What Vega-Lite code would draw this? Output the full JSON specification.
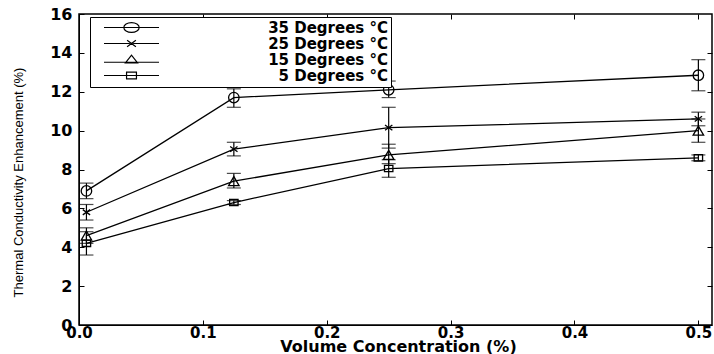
{
  "$schema": "https://vega.github.io/schema/vega-lite/v6.json",
  "width": 633,
  "height": 311,
  "autosize": {"type": "none"},
  "padding": {"left": 79, "top": 14, "right": 2, "bottom": 29},
  "background": "white",
  "config": {
    "view": {"stroke": "black", "strokeWidth": 1.5},
    "axis": {
      "domainColor": "black",
      "tickColor": "black",
      "labelColor": "black",
      "titleColor": "black",
      "grid": false,
      "labelFont": "DejaVu Sans",
      "labelFontWeight": "bold",
      "labelFontSize": 16,
      "tickSize": -5
    },
    "legend": {
      "labelFont": "DejaVu Sans",
      "labelColor": "black"
    }
  },
  "data": {
    "values": [
      {"series": "35 Degrees °C", "x": 0.006, "y": 6.9, "lo": 6.5, "hi": 7.3},
      {"series": "35 Degrees °C", "x": 0.125, "y": 11.7, "lo": 11.2, "hi": 12.15},
      {"series": "35 Degrees °C", "x": 0.25, "y": 12.1, "lo": 11.7, "hi": 12.55},
      {"series": "35 Degrees °C", "x": 0.5, "y": 12.85, "lo": 12.05, "hi": 13.65},
      {"series": "25 Degrees °C", "x": 0.006, "y": 5.8, "lo": 5.4, "hi": 6.2},
      {"series": "25 Degrees °C", "x": 0.125, "y": 9.05, "lo": 8.7, "hi": 9.4},
      {"series": "25 Degrees °C", "x": 0.25, "y": 10.15, "lo": 9.1, "hi": 11.2},
      {"series": "25 Degrees °C", "x": 0.5, "y": 10.6, "lo": 10.25, "hi": 10.95},
      {"series": "15 Degrees °C", "x": 0.006, "y": 4.6, "lo": 4.2, "hi": 5.0},
      {"series": "15 Degrees °C", "x": 0.125, "y": 7.4, "lo": 7.05, "hi": 7.8},
      {"series": "15 Degrees °C", "x": 0.25, "y": 8.75, "lo": 8.3, "hi": 9.3},
      {"series": "15 Degrees °C", "x": 0.5, "y": 10.0, "lo": 9.4, "hi": 10.6},
      {"series": "5 Degrees °C", "x": 0.006, "y": 4.2, "lo": 3.6, "hi": 4.8},
      {"series": "5 Degrees °C", "x": 0.125, "y": 6.3, "lo": 6.2, "hi": 6.4},
      {"series": "5 Degrees °C", "x": 0.25, "y": 8.05, "lo": 7.6, "hi": 8.5},
      {"series": "5 Degrees °C", "x": 0.5, "y": 8.6, "lo": 8.45, "hi": 8.75}
    ]
  },
  "resolve": {"axis": {"x": "independent", "y": "independent"}},
  "layer": [
    {
      "mark": {"type": "rule", "color": "black", "strokeWidth": 1.2},
      "encoding": {
        "x": {"field": "x", "type": "quantitative", "scale": {"domain": [0, 0.511], "nice": false, "zero": false},
          "axis": {"values": [0, 0.1, 0.2, 0.3, 0.4, 0.5], "title": "Volume Concentration (%)", "titleFont": "DejaVu Sans", "titleFontWeight": "bold", "titleFontSize": 16, "titleX": 319, "titleY": 26, "titleBaseline": "alphabetic", "titleAlign": "center", "labelPadding": 5, "labelFontSize": 15, "labelFlush": false}},
        "y": {"field": "lo", "type": "quantitative", "scale": {"domain": [0, 16], "nice": false},
          "axis": {"values": [0, 2, 4, 6, 8, 10, 12, 14, 16], "title": "Thermal Conductivity Enhancement (%)", "titleFont": "Liberation Sans", "titleFontWeight": "normal", "titleFontSize": 13, "titleX": -61, "titleY": 168, "titleAngle": -90, "titleBaseline": "middle", "titleAlign": "center", "labelPadding": 12, "labelFlush": false}},
        "y2": {"field": "hi"}
      }
    },
    {
      "mark": {"type": "tick", "orient": "horizontal", "color": "black", "size": 14, "thickness": 1.2},
      "encoding": {
        "x": {"field": "x", "type": "quantitative", "axis": null},
        "y": {"field": "lo", "type": "quantitative", "axis": null}
      }
    },
    {
      "mark": {"type": "tick", "orient": "horizontal", "color": "black", "size": 14, "thickness": 1.2},
      "encoding": {
        "x": {"field": "x", "type": "quantitative", "axis": {"orient": "top", "values": [0.1, 0.2, 0.3, 0.4, 0.5], "labels": false, "title": null, "domain": false}},
        "y": {"field": "hi", "type": "quantitative", "axis": {"orient": "right", "values": [2, 4, 6, 8, 10, 12, 14], "labels": false, "title": null, "domain": false}}
      }
    },
    {
      "mark": {"type": "line", "strokeWidth": 1.3},
      "encoding": {
        "x": {"field": "x", "type": "quantitative", "axis": null},
        "y": {"field": "y", "type": "quantitative", "axis": null},
        "order": {"field": "x"},
        "color": {
          "field": "series", "type": "nominal",
          "scale": {
            "domain": ["35 Degrees °C", "25 Degrees °C", "15 Degrees °C", "5 Degrees °C"],
            "range": ["black", "black", "black", "black"]
          },
          "legend": {
            "title": null,
            "orient": "none",
            "legendX": 11,
            "legendY": 3,
            "strokeColor": "black",
            "fillColor": "white",
            "padding": 3,
            "symbolSize": 121,
            "symbolOffset": 31,
            "symbolStrokeWidth": 1.2,
            "symbolFillColor": "transparent",
            "labelAlign": "right",
            "labelOffset": 249,
            "labelFontSize": 15,
            "labelFontWeight": "bold",
            "rowPadding": -1,
            "labelLimit": 400,
            "encode": {
              "symbols": {
                "update": {
                  "shape": {"signal": "datum.value === '35 Degrees °C' ? 'M-5,0L-1.4,0M1.4,0L5,0M-1.4,0A1.4,0.9,0,1,1,1.4,0A1.4,0.9,0,1,1,-1.4,0M-1.4,0L1.4,0' : datum.value === '25 Degrees °C' ? 'M-5,0L-0.3,0M0.3,0L5,0M-0.8,-0.6L0.8,0.6M-0.8,0.6L0.8,-0.6' : datum.value === '15 Degrees °C' ? 'M-5,0.5L5,0.5M-1.1,0.6L0,-0.8L1.1,0.6Z' : 'M-5,0L5,0M-0.9,-0.6H0.9V0.6H-0.9Z'"},
                  "fill": {"value": "transparent"}
                }
              }
            }
          }
        }
      }
    },
    {
      "transform": [{"filter": "datum.series === '35 Degrees °C'"}],
      "mark": {"type": "point", "filled": false, "color": "black", "strokeWidth": 1.3, "size": 110, "opacity": 1, "shape": "circle"},
      "encoding": {
        "x": {"field": "x", "type": "quantitative", "axis": null},
        "y": {"field": "y", "type": "quantitative", "axis": null}
      }
    },
    {
      "transform": [{"filter": "datum.series === '25 Degrees °C'"}],
      "mark": {"type": "point", "filled": false, "color": "black", "strokeWidth": 1.3, "size": 110, "opacity": 1, "shape": "M-0.7,-0.5L0.7,0.5M-0.7,0.5L0.7,-0.5"},
      "encoding": {
        "x": {"field": "x", "type": "quantitative", "axis": null},
        "y": {"field": "y", "type": "quantitative", "axis": null}
      }
    },
    {
      "transform": [{"filter": "datum.series === '15 Degrees °C'"}],
      "mark": {"type": "point", "filled": false, "color": "black", "strokeWidth": 1.3, "size": 110, "opacity": 1, "shape": "triangle-up"},
      "encoding": {
        "x": {"field": "x", "type": "quantitative", "axis": null},
        "y": {"field": "y", "type": "quantitative", "axis": null}
      }
    },
    {
      "transform": [{"filter": "datum.series === '5 Degrees °C'"}],
      "mark": {"type": "point", "filled": false, "color": "black", "strokeWidth": 1.3, "size": 110, "opacity": 1, "shape": "M-0.8,-0.6H0.8V0.6H-0.8Z"},
      "encoding": {
        "x": {"field": "x", "type": "quantitative", "axis": null},
        "y": {"field": "y", "type": "quantitative", "axis": null}
      }
    }
  ]
}
